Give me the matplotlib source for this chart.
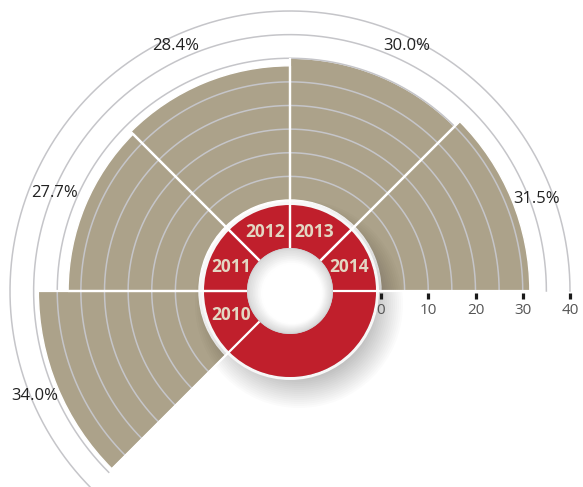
import numpy as np
import matplotlib.pyplot as plt
from matplotlib.transforms import ScaledTranslation

plt.rcParams['font.family'] = ['Open Sans', 'DejaVu Sans']

# data
years = ['2010', '2011', '2012', '2013', '2014']
shares = [34.0, 27.7, 28.4, 30.0, 31.5]
pct_labels = ['34.0%', '27.7%', '28.4%', '30.0%', '31.5%']
axis_ticks = [0, 10, 20, 30, 40]
grid_levels = [5, 10, 15, 20, 25, 30, 35, 40]

# layout (pixels of the 583x487 picture)
W, H, DPI = 583, 487, 100
cx, cy = 290, 291
px_unit = 4.725
start_px = 91      # radius where value 0 sits
hole_px = 43
ring_px = 86
year_r_px = 64
pct_ang = [202.4, 157.4, 115.1, 64.5, 20.4]
pct_r = [39.1, 34.8, 38.0, 38.2, 36.5]

TAN = '#aca28a'
RED = '#c01f2c'
GRID = '#c5c5c9'

origin = -start_px / px_unit
rmax = 41
R = (rmax - origin) * px_unit


def u(px):
    return origin + px / px_unit


fig = plt.figure(figsize=(W / DPI, H / DPI), dpi=DPI)
ax = fig.add_axes([(cx - R) / W, (H - cy - R) / H, 2 * R / W, 2 * R / H],
                  projection='polar')
ax.set_theta_zero_location('E')
ax.set_theta_direction(1)
ax.set_ylim(origin, rmax)
ax.set_axis_off()

def shift(dx, dy):
    return ax.transData + ScaledTranslation(dx / DPI, dy / DPI, fig.dpi_scale_trans)

wid = np.deg2rad(45)
theta_c = np.deg2rad(202.5) - wid * np.arange(len(years))

# bars
ax.bar(theta_c, shares, width=wid, bottom=0, color=TAN, edgecolor='white',
       linewidth=1.0, zorder=2)

# grid arcs
th = np.linspace(0, np.deg2rad(225), 400)
for g in grid_levels:
    ax.plot(th, np.full_like(th, g), color=GRID, lw=1.1, zorder=3)

# white separators between sectors
for t, v in zip(theta_c, shares):
    for e in (t - wid / 2, t + wid / 2):
        ax.plot([e, e], [u(hole_px), v], color='white', lw=1.6,
                solid_capstyle='butt', zorder=7)

# soft drop shadow of the ring
for k in range(16):
    ax.bar(0, u(ring_px - 12 + 2 * k) - origin, width=2 * np.pi, bottom=origin,
           color='black', alpha=0.016, lw=0, zorder=4.4, transform=shift(9, -13))

# white rim + red ring
ax.bar(0, u(ring_px + 3) - u(ring_px), width=2 * np.pi, bottom=u(ring_px),
       color='#f7f7f7', lw=0, zorder=4.6)
ax.bar(0, u(ring_px) - u(hole_px), width=2 * np.pi, bottom=u(hole_px), color=RED,
       lw=0, zorder=5)

# hole with soft inner shading
ax.bar(0, u(hole_px) - origin, width=2 * np.pi, bottom=origin, color='#d2d2d4',
       lw=0, zorder=8)
n = 14
for k in range(n):
    f = k / (n - 1)
    rr = hole_px - 1 - f * 18
    c = 0.86 + 0.14 * min(1.0, f * 1.6)
    ax.bar(0, u(rr) - origin, width=2 * np.pi, bottom=origin, color=(c, c, c),
           lw=0, zorder=8.1, transform=shift(3 * f, -4 * f))

# year labels in the ring
for t, y in zip(theta_c, years):
    ax.text(t, u(year_r_px), y, ha='center', va='center', fontsize=12.5,
            fontweight='bold', color='#e3d7c3', zorder=9)

# percentage labels
for a, r, s in zip(pct_ang, pct_r, pct_labels):
    ax.text(np.deg2rad(a), r, s, ha='center', va='center', fontsize=12,
            color='#222222', zorder=9)

# value axis ticks along 0 degrees
ax.plot(np.zeros(len(axis_ticks)), axis_ticks, ls='none', marker='|',
        ms=4.5, mew=2.3, color='#1a1a1a', transform=shift(0, -4.5),
        clip_on=False, zorder=9)
for t in axis_ticks:
    ax.text(0, t, str(t), ha='center', va='center', fontsize=11,
            color='#555555', transform=shift(0, -19), zorder=9)

fig.savefig('out.png', dpi=DPI, facecolor='white')
